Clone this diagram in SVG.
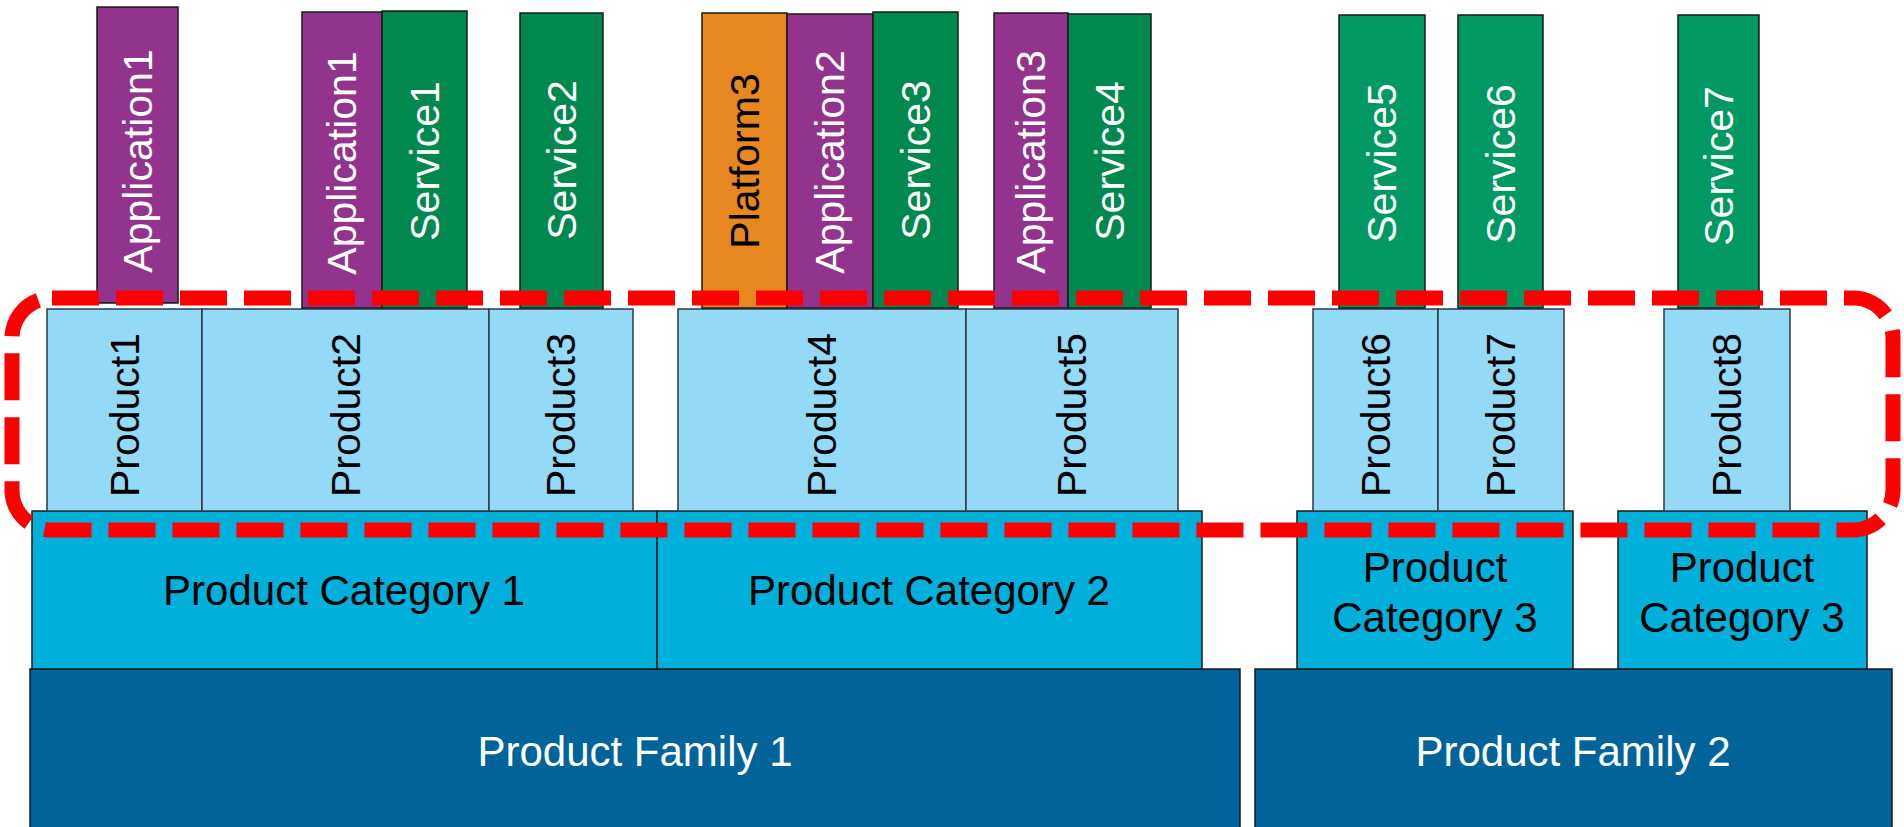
<svg xmlns="http://www.w3.org/2000/svg" width="1904" height="827" viewBox="0 0 1904 827">
<style>
.box{stroke:#1a1a1a;stroke-width:1.5}
.app{fill:#92338E}
.svc{fill:#00884F}
.svc2{fill:#009863}
.plat{fill:#E6871F}
.prod{fill:#94D9F6;stroke:#2b3a44}
.cat{fill:#00AFDA}
.fam{fill:#00649A}
.vt{font-family:"Liberation Sans",Arial,sans-serif;font-size:41px;text-anchor:middle}
.ht{font-family:"Liberation Sans",Arial,sans-serif;font-size:42px;text-anchor:middle}
.w{fill:#ffffff}
.k{fill:#000000}
.dash{fill:none;stroke:#FF0000;stroke-width:15;stroke-dasharray:47 17}
</style>
<g id="family1"><rect class="box fam" x="30" y="669" width="1210" height="162"/><text class="ht w" x="635" y="766">Product Family 1</text></g>
<g id="family2"><rect class="box fam" x="1255" y="669" width="637" height="162"/><text class="ht w" x="1573" y="766">Product Family 2</text></g>
<g id="category1"><rect class="box cat" x="32" y="511" width="625" height="158"/><text class="ht k" x="344" y="605">Product Category 1</text></g>
<g id="category2"><rect class="box cat" x="657" y="511" width="545" height="158"/><text class="ht k" x="929" y="605">Product Category 2</text></g>
<g id="category3a"><rect class="box cat" x="1297" y="511" width="276" height="158"/><text class="ht k" x="1435" y="582">Product</text><text class="ht k" x="1435" y="632">Category 3</text></g>
<g id="category3b"><rect class="box cat" x="1618" y="511" width="249" height="158"/><text class="ht k" x="1742" y="582">Product</text><text class="ht k" x="1742" y="632">Category 3</text></g>
<g id="product1"><rect class="box prod" x="47" y="309" width="155" height="202"/><text class="vt k" transform="translate(124.5,415) rotate(-90)" dy="0.35em">Product1</text></g>
<g id="product2"><rect class="box prod" x="202" y="309" width="287" height="202"/><text class="vt k" transform="translate(345.5,415) rotate(-90)" dy="0.35em">Product2</text></g>
<g id="product3"><rect class="box prod" x="489" y="309" width="144" height="202"/><text class="vt k" transform="translate(561,415) rotate(-90)" dy="0.35em">Product3</text></g>
<g id="product4"><rect class="box prod" x="678" y="309" width="288" height="202"/><text class="vt k" transform="translate(822,415) rotate(-90)" dy="0.35em">Product4</text></g>
<g id="product5"><rect class="box prod" x="966" y="309" width="212" height="202"/><text class="vt k" transform="translate(1072,415) rotate(-90)" dy="0.35em">Product5</text></g>
<g id="product6"><rect class="box prod" x="1313" y="309" width="125" height="202"/><text class="vt k" transform="translate(1375.5,415) rotate(-90)" dy="0.35em">Product6</text></g>
<g id="product7"><rect class="box prod" x="1438" y="309" width="126" height="202"/><text class="vt k" transform="translate(1501,415) rotate(-90)" dy="0.35em">Product7</text></g>
<g id="product8"><rect class="box prod" x="1664" y="309" width="126" height="202"/><text class="vt k" transform="translate(1727,415) rotate(-90)" dy="0.35em">Product8</text></g>
<g id="application1a"><rect class="box app" x="97" y="7" width="81" height="296"/><text class="vt w" transform="translate(138,161) rotate(-90)" dy="0.35em">Application1</text></g>
<g id="application1b"><rect class="box app" x="302" y="12" width="80" height="296"/><text class="vt w" transform="translate(342,163) rotate(-90)" dy="0.35em">Application1</text></g>
<g id="service1"><rect class="box svc" x="382" y="11" width="85" height="297"/><text class="vt w" transform="translate(424.5,161) rotate(-90)" dy="0.35em">Service1</text></g>
<g id="service2"><rect class="box svc" x="520" y="13" width="83" height="295"/><text class="vt w" transform="translate(561.5,160) rotate(-90)" dy="0.35em">Service2</text></g>
<g id="platform3"><rect class="box plat" x="702" y="13" width="85" height="295"/><text class="vt k" transform="translate(744.5,161) rotate(-90)" dy="0.35em">Platform3</text></g>
<g id="application2"><rect class="box app" x="787" y="14" width="86" height="294"/><text class="vt w" transform="translate(830,162) rotate(-90)" dy="0.35em">Application2</text></g>
<g id="service3"><rect class="box svc" x="873" y="12" width="85" height="296"/><text class="vt w" transform="translate(915.5,160) rotate(-90)" dy="0.35em">Service3</text></g>
<g id="application3"><rect class="box app" x="994" y="13" width="74" height="295"/><text class="vt w" transform="translate(1031,162) rotate(-90)" dy="0.35em">Application3</text></g>
<g id="service4"><rect class="box svc" x="1068" y="14" width="83" height="294"/><text class="vt w" transform="translate(1109.5,161) rotate(-90)" dy="0.35em">Service4</text></g>
<g id="service5"><rect class="box svc2" x="1339" y="15" width="86" height="293"/><text class="vt w" transform="translate(1382,163) rotate(-90)" dy="0.35em">Service5</text></g>
<g id="service6"><rect class="box svc2" x="1458" y="15" width="85" height="293"/><text class="vt w" transform="translate(1500.5,164) rotate(-90)" dy="0.35em">Service6</text></g>
<g id="service7"><rect class="box svc2" x="1678" y="15" width="81" height="293"/><text class="vt w" transform="translate(1718.5,166) rotate(-90)" dy="0.35em">Service7</text></g>
<g id="connectors">
<path id="scope" class="dash" d="M52,298 H1853 A40,40 0 0 1 1893,338 V490 A40,40 0 0 1 1853,530 H52 A40,40 0 0 1 12,490 V338 A40,40 0 0 1 52,298 Z"/>
</g>
</svg>
